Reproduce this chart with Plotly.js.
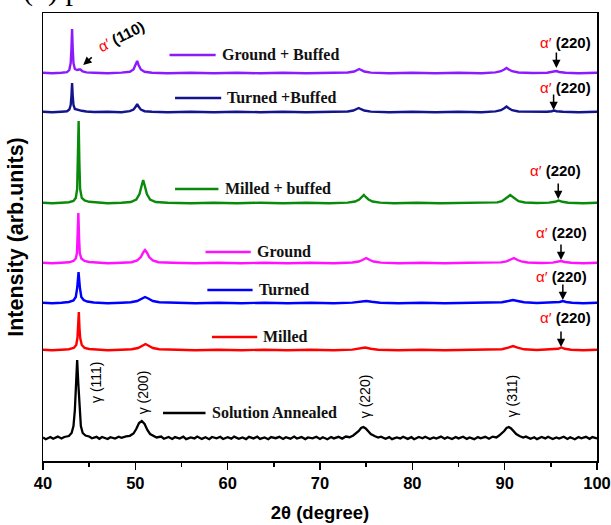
<!DOCTYPE html>
<html>
<head>
<meta charset="utf-8">
<script src="https://cdn.plot.ly/plotly-3.0.1.min.js"></script>
<style>html,body{margin:0;padding:0;background:#fff;}#chart{width:611px;height:525px;}</style>
</head>
<body>
<div id="chart"></div>
<script>
// ---- Data (2θ in degrees, relative intensity in arb. units) ----
const seriesNames = ["Ground + Buffed", "Turned +Buffed", "Milled + buffed", "Ground", "Turned", "Milled", "Solution Annealed"];
const seriesColors = ["#8c1aff", "#14148c", "#0a8a0a", "#ff10ff", "#0000ff", "#ff0000", "#000000"];
const stackOffsets = [388, 349, 258, 198, 158, 111, 23];

const groundBuffed = [[40,0.3],[41,-0.3],[42,0.2],[42.6,0.8],[42.85,3],[43.0,10],[43.08,24],[43.15,44],[43.22,24],[43.3,10],[43.45,4],[43.7,3],[43.9,3.5],[44.05,3.5],[44.3,1.5],[44.7,0.6],[45.5,0.2],[47,-0.3],[48.5,0.4],[49.4,1.2],[49.8,3.5],[50.05,8],[50.2,12],[50.35,8],[50.6,3.5],[51,1.2],[51.8,0.3],[53.5,-0.3],[56,0.3],[58.5,-0.2],[61,0.3],[63.5,-0.3],[66,0.2],[68.5,-0.2],[71,0.3],[73,0.5],[73.7,1.5],[74.0,2.8],[74.25,4],[74.5,2.8],[74.8,1.5],[75.5,0.4],[77.5,-0.2],[80,0.3],[82.5,-0.3],[85,0.2],[87.5,-0.2],[89,0.6],[89.6,1.8],[89.95,3.5],[90.2,5],[90.45,3.5],[90.8,1.8],[91.5,0.5],[93,0],[94.6,0.3],[95.3,1],[95.6,2],[95.9,1],[96.6,0.3],[98,-0.2],[100,0.2]];

const turnedBuffed = [[40,0.2],[41,-0.3],[42,0.3],[42.6,0.7],[42.85,2.5],[43.0,7],[43.08,16],[43.15,29],[43.22,16],[43.3,7],[43.45,3],[43.8,1.8],[44.2,1.2],[44.7,0.5],[45.5,0],[47,0.3],[48.5,-0.2],[49.4,0.8],[49.8,2.4],[50.05,5.5],[50.2,8],[50.35,5.5],[50.6,2.4],[51,0.8],[51.8,0.2],[53.5,-0.3],[56,0.2],[58.5,-0.2],[61,0.3],[63.5,-0.2],[66,0.2],[68.5,-0.3],[71,0.2],[73,0.5],[73.6,1.5],[73.95,2.8],[74.2,4],[74.45,2.8],[74.8,1.5],[75.5,0.4],[77.5,-0.2],[80,0.2],[82.5,-0.3],[85,0.2],[87.5,-0.2],[89,0.6],[89.6,1.8],[89.95,3.8],[90.2,5.5],[90.45,3.8],[90.8,1.8],[91.5,0.5],[93,0],[94.6,0.2],[95.1,0.8],[95.35,1.5],[95.6,0.8],[96.3,0.2],[98,-0.2],[100,0.2]];

const milledBuffed = [[40,0.3],[41,-0.2],[42,0.3],[42.8,0.8],[43.3,2],[43.55,5],[43.7,14],[43.78,40],[43.86,82],[43.94,40],[44.02,14],[44.2,5],[44.5,2.5],[45,1.2],[45.8,0.4],[47,-0.2],[48.5,0.3],[49.5,1],[50.1,3.5],[50.45,9],[50.7,18],[50.85,23],[51.0,18],[51.25,9],[51.6,3.5],[52.2,1],[53.5,0.2],[56,-0.3],[58.5,0.3],[61,-0.2],[63.5,0.3],[66,-0.2],[68.5,0.2],[71,-0.3],[73,0.4],[73.8,1.5],[74.25,3.5],[74.55,6],[74.75,8],[74.95,6],[75.25,3.5],[75.7,1.5],[76.5,0.4],[78,-0.2],[80.5,0.3],[83,-0.2],[85.5,0.2],[88,0],[89.2,0.6],[89.7,1.8],[90.1,4],[90.4,6.5],[90.6,8],[90.8,6.5],[91.1,4],[91.5,1.8],[92.2,0.5],[93.5,0],[94.8,0.4],[95.45,1.2],[95.85,2.5],[96.25,1.2],[96.9,0.3],[98.5,-0.2],[100,0.2]];

const ground = [[40,0.2],[41,-0.3],[42,0.3],[42.8,0.7],[43.3,2],[43.55,4.5],[43.68,10],[43.76,27],[43.83,50],[43.9,27],[43.98,10],[44.15,4.5],[44.5,2],[45,1],[45.8,0.3],[47,-0.2],[48.5,0.3],[49.6,0.8],[50.2,2.5],[50.6,6],[50.85,10.5],[51.05,13],[51.25,10.5],[51.5,6],[51.9,2.5],[52.5,0.8],[54,0.2],[56.5,-0.3],[59,0.2],[61.5,-0.2],[64,0.3],[66.5,-0.2],[69,0.2],[71.5,-0.2],[73.5,0.5],[74.2,1.5],[74.6,3],[75.0,5],[75.4,3],[75.8,1.5],[76.6,0.4],[78.5,-0.2],[81,0.2],[83.5,-0.3],[86,0.2],[88.5,0],[89.6,0.6],[90.2,1.6],[90.6,3],[91.0,5],[91.4,3],[91.8,1.6],[92.5,0.5],[94,0],[95.2,0.4],[95.7,1],[96.1,2],[96.5,1],[97.2,0.3],[98.5,-0.2],[100,0.2]];

const turned = [[40,0.2],[41,-0.3],[42,0.3],[42.8,1],[43.3,2.5],[43.55,6],[43.7,15],[43.85,31],[44.0,15],[44.15,6],[44.4,3],[44.8,1.5],[45.5,0.5],[47,-0.2],[48.5,0.3],[49.5,0.8],[50.2,2],[50.7,4.5],[51.05,6],[51.4,4.5],[51.9,2],[52.6,0.7],[54,0.1],[56.5,-0.3],[59,0.2],[61.5,-0.2],[64,0.3],[66.5,-0.2],[69,0.2],[71.5,-0.2],[73.5,0.4],[74.4,1.2],[75.0,2],[75.6,1.2],[76.5,0.3],[78.5,-0.2],[81,0.2],[83.5,-0.3],[86,0.2],[88.5,0],[89.7,0.8],[90.4,2],[90.9,3],[91.4,2],[92.1,0.7],[93.5,0],[95.4,0.4],[95.95,1],[96.3,2],[96.65,1],[97.3,0.3],[98.5,-0.2],[100,0.2]];

const milled = [[40,0.2],[41,-0.3],[42,0.3],[42.8,0.8],[43.35,2.2],[43.6,5],[43.73,12],[43.81,22],[43.88,38],[43.95,22],[44.03,12],[44.2,5],[44.5,2.2],[45,1],[45.8,0.3],[47,-0.2],[48.5,0.3],[49.6,0.8],[50.3,2],[50.8,4.5],[51.1,6],[51.4,4.5],[51.9,2],[52.6,0.7],[54,0.1],[56.5,-0.3],[59,0.2],[61.5,-0.2],[64,0.3],[66.5,-0.2],[69,0.2],[71.5,-0.2],[73.5,0.4],[74.3,1.3],[74.9,2.5],[75.5,1.3],[76.3,0.3],[78.5,-0.2],[81,0.2],[83.5,-0.3],[86,0.2],[88.5,0],[89.7,0.8],[90.4,2.4],[90.9,4],[91.4,2.4],[92.1,0.7],[93.5,0],[95.3,0.4],[95.8,1.2],[96.15,2.5],[96.5,1.2],[97.2,0.3],[98.5,-0.2],[100,0.2]];

const solutionAnnealed = [[40,0.5],[40.3,-1.2],[40.8,1],[41.1,-0.8],[41.6,1.4],[42,-0.5],[42.3,1],[42.8,2],[43.1,5],[43.3,12],[43.45,28],[43.58,55],[43.7,78],[43.82,55],[43.95,28],[44.1,12],[44.3,5],[44.6,2.5],[45,1.5],[45.3,-0.3],[45.8,1.2],[46.1,-0.8],[46.4,1],[47,-1],[47.3,0.8],[47.8,-0.5],[48.2,1.3],[48.5,0.2],[49,1.6],[49.4,2.2],[49.8,4.5],[50.1,9],[50.4,15],[50.7,17],[51.0,14],[51.3,8],[51.6,4],[52,2],[52.3,0.5],[52.8,1.4],[53.1,-0.8],[53.6,1],[54,-1],[54.3,0.9],[54.8,-0.6],[55.2,1.3],[55.5,-1.1],[56,0.6],[56.4,-0.4],[56.7,1.5],[57.2,-0.9],[57.6,0.7],[58,-1.2],[58.3,1],[58.8,-0.3],[59.2,1.2],[59.5,-1],[60,0.8],[60.4,-0.6],[60.7,1.4],[61.2,-0.8],[61.6,0.5],[62,-1.1],[62.3,1.1],[62.8,-0.4],[63.2,1.3],[63.5,-0.9],[64,0.6],[64.4,-1.2],[64.7,0.9],[65.2,-0.2],[65.6,1.2],[66,-1],[66.3,0.8],[66.8,-0.7],[67.2,1.4],[67.5,-0.5],[68,0.9],[68.4,-1.1],[68.7,0.6],[69.2,-0.3],[69.6,1.3],[70,-0.9],[70.3,0.7],[70.8,-1.2],[71.2,1],[71.5,-0.4],[72,1.2],[72.4,-0.6],[72.8,1.5],[73.2,0.8],[73.6,2.5],[73.9,4.5],[74.2,7],[74.45,10],[74.7,11],[74.95,9.5],[75.2,6.5],[75.5,4],[75.9,2],[76.3,0.5],[76.6,1.3],[77.1,-0.8],[77.5,0.9],[77.8,-1.1],[78.3,0.6],[78.7,-0.4],[79,1.3],[79.5,-0.9],[79.9,0.8],[80.2,-1.2],[80.7,1],[81.1,-0.3],[81.4,1.2],[81.9,-1],[82.3,0.6],[82.6,-0.6],[83.1,1.4],[83.5,-0.8],[83.8,0.7],[84.3,-1.1],[84.7,1],[85,-0.4],[85.5,1.3],[85.9,-0.9],[86.2,0.5],[86.7,-1.2],[87.1,0.9],[87.4,-0.3],[87.9,1.2],[88.3,-0.7],[88.7,1.4],[89.1,0.6],[89.4,2.5],[89.7,4.5],[89.95,7],[90.2,10],[90.45,11],[90.7,9.5],[90.95,6.5],[91.25,4],[91.6,2],[92,0.5],[92.3,1.4],[92.8,-0.8],[93.2,0.8],[93.5,-1.1],[94,1],[94.4,-0.4],[94.7,1.2],[95.2,-1],[95.6,0.6],[95.9,-0.6],[96.4,1.3],[96.8,-0.9],[97.1,0.8],[97.6,-1.2],[98,1],[98.3,-0.3],[98.8,1.2],[99.2,-0.8],[99.5,0.9],[100,-0.4]];

const seriesData = [groundBuffed, turnedBuffed, milledBuffed, ground, turned, milled, solutionAnnealed];

const xTickValues = [40, 50, 60, 70, 80, 90, 100];
const gammaPeaks = ["γ (111)", "γ (200)", "γ (220)", "γ (311)"];
const alphaLabel = "(220)";

// ---- Build ----
const SANS = "Liberation Sans, Arial, sans-serif";
const SERIF = "Liberation Serif, Times New Roman, serif";

const traces = seriesData.map((pts, i) => ({
  type: "scatter", mode: "lines", name: seriesNames[i],
  x: pts.map(p => p[0]),
  y: pts.map(p => p[1] + stackOffsets[i]),
  line: {color: seriesColors[i], width: i === 6 ? 2.3 : 2.4},
  hoverinfo: "skip", showlegend: false
}));

// legend samples placed beside each curve (x in data units, y in data units)
const legPos = [
  [53.7, 58.7, 406], [54.3, 59.3, 363], [54.3, 59.0, 272],
  [57.6, 62.5, 209], [57.8, 62.7, 171], [58.3, 63.2, 124], [53.0, 57.6, 48]
];
const shapes = legPos.map((p, i) => ({
  type: "line", xref: "x", yref: "y", x0: p[0], x1: p[1], y0: p[2], y1: p[2],
  line: {color: seriesColors[i], width: 2.5}
}));
const annotations = legPos.map((p, i) => ({
  xref: "x", yref: "y", x: p[1] + 0.45, y: p[2] + 0.5, xanchor: "left", yanchor: "middle",
  text: "<b>" + seriesNames[i] + "</b>", showarrow: false,
  font: {family: SERIF, size: 16, color: "#111"}
}));

// alpha' (220) arrows: [arrow x, arrow head y (data), text x, text y]
const alphaPos = [
  [95.6, 393, 96.55, 419], [95.3, 351, 96.55, 374], [95.8, 262, 95.55, 291],
  [96.1, 201, 96.2, 229], [96.3, 161, 96.2, 185], [96.1, 114, 96.55, 144]
];
alphaPos.forEach(p => {
  annotations.push({xref: "x", yref: "y", x: p[0], y: p[1], ax: 0, ay: -17, text: "",
    showarrow: true, arrowhead: 2, arrowsize: 1.1, arrowwidth: 1.5, arrowcolor: "#000"});
  annotations.push({xref: "x", yref: "y", x: p[2], y: p[3], showarrow: false,
    text: '<span style="color:#ff0000">α′</span> <b>' + alphaLabel + '</b>',
    font: {family: SANS, size: 15, color: "#000"}});
});

// alpha' (110)
annotations.push({xref: "x", yref: "y", x: 44.36, y: 396, ax: 10, ay: -9, text: "",
  showarrow: true, arrowhead: 2, arrowsize: 1.1, arrowwidth: 1.5, arrowcolor: "#000"});
annotations.push({xref: "x", yref: "y", x: 48.4, y: 425, showarrow: false, textangle: -27,
  text: '<span style="color:#ff0000">α′</span> <b>(110)</b>',
  font: {family: SANS, size: 15, color: "#000"}});

// gamma labels
const gammaPos = [[45.74, 79], [50.86, 69], [74.9, 65], [90.83, 65]];
gammaPos.forEach((p, i) => {
  annotations.push({xref: "x", yref: "y", x: p[0], y: p[1], showarrow: false, textangle: -90,
    text: gammaPeaks[i], font: {family: SANS, size: 14, color: "#000"}});
});

// cropped panel label at the top-left
annotations.push({xref: "paper", yref: "paper", x: -0.04, y: 1.052, xanchor: "left", yanchor: "middle",
  showarrow: false, text: "(b) p", font: {family: SERIF, size: 30, color: "#000"}});

const layout = {
  width: 611, height: 525,
  margin: {l: 42.7, r: 14.3, t: 13, b: 64},
  paper_bgcolor: "#fff", plot_bgcolor: "#fff",
  showlegend: false,
  xaxis: {
    range: [40, 100], tickvals: xTickValues, ticks: "outside", ticklen: 7, tickwidth: 1.5,
    tickcolor: "#000", showline: true, linecolor: "#000", linewidth: 1.5, mirror: true,
    showgrid: false, zeroline: false,
    minor: {dtick: 5, ticks: "outside", ticklen: 4, tickwidth: 1.5, tickcolor: "#000", showgrid: false},
    tickfont: {family: SANS, size: 16.5, color: "#000", weight: "bold"},
    title: {text: "2θ (degree)", font: {family: SANS, size: 18.5, color: "#000", weight: "bold"}, standoff: 15}
  },
  yaxis: {
    range: [0, 448], showticklabels: false, ticks: "", showline: true, linecolor: "#000",
    linewidth: 1.5, mirror: true, showgrid: false, zeroline: false,
    title: {text: "Intensity (arb.units)", font: {family: SANS, size: 21.5, color: "#000", weight: "bold"}, standoff: 12}
  },
  shapes: shapes,
  annotations: annotations
};

Plotly.newPlot("chart", traces, layout, {staticPlot: true, displayModeBar: false});
</script>
</body>
</html>
